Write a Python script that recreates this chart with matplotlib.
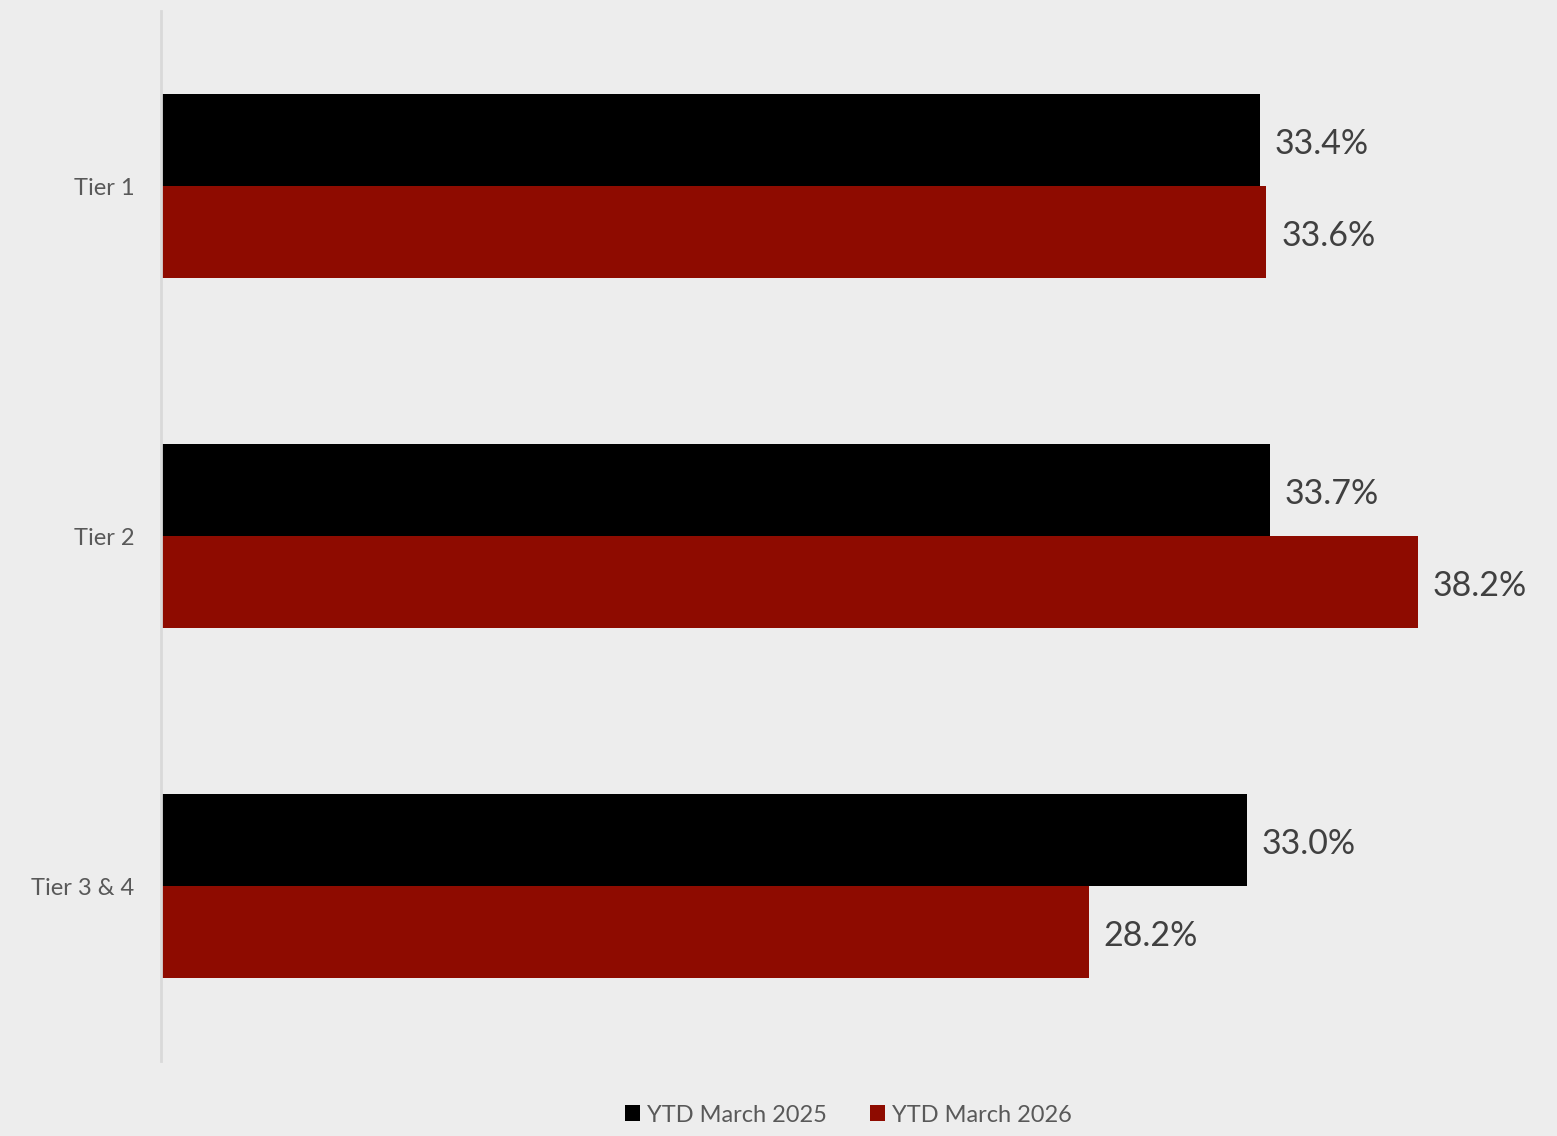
import numpy as np
import matplotlib.pyplot as plt

# Data
categories = ["Tier 1", "Tier 2", "Tier 3 & 4"]
ytd_2025 = [33.4, 33.7, 33.0]
ytd_2026 = [33.6, 38.2, 28.2]
series_names = ["YTD March 2025", "YTD March 2026"]

plt.rcParams["font.family"] = ["Lato", "DejaVu Sans"]

bg = "#EDEDED"
black = "#000000"
red = "#8E0B00"

fig = plt.figure(figsize=(15.57, 11.36), dpi=100, facecolor=bg)
# axes area in pixel terms: left 162, top 11, bottom 1061
ax = fig.add_axes([161 / 1557, (1136 - 1061) / 1136, (1557 - 161) / 1557, 1050 / 1136])
ax.set_facecolor(bg)

y = np.arange(len(categories))
h = 0.263

b1 = ax.barh(y - h / 2, ytd_2025, height=h, color=black, label=series_names[0])
b2 = ax.barh(y + h / 2, ytd_2026, height=h, color=red, label=series_names[1])

ax.set_xlim(0, 42.43)
ax.set_ylim(2.5, -0.5)

# value labels
for bars in (b1, b2):
    for rect in bars:
        w = rect.get_width()
        ax.annotate(f"{w:.1f}%", (w, rect.get_y() + rect.get_height() / 2),
                    xytext=(15, -4), textcoords="offset pixels",
                    va="center", ha="left", fontsize=24.5, color="#404040")

ax.set_yticks(y)
ax.set_yticklabels(categories, fontsize=17, color="#595959")
ax.tick_params(axis="y", length=0, pad=19)
ax.set_xticks([])

for s in ["top", "right", "bottom"]:
    ax.spines[s].set_visible(False)
ax.spines["left"].set_color("#D9D9D9")
ax.spines["left"].set_linewidth(2)

leg = fig.legend(handles=[b1, b2], labels=series_names, loc="center",
                 bbox_to_anchor=(0.545, 1 - 1115 / 1136), ncol=2, frameon=False,
                 fontsize=17, handlelength=0.65, handleheight=0.65, handletextpad=0.3,
                 columnspacing=1.8)
for t in leg.get_texts():
    t.set_color("#595959")

fig.savefig("out.png", dpi=100, facecolor=bg)
